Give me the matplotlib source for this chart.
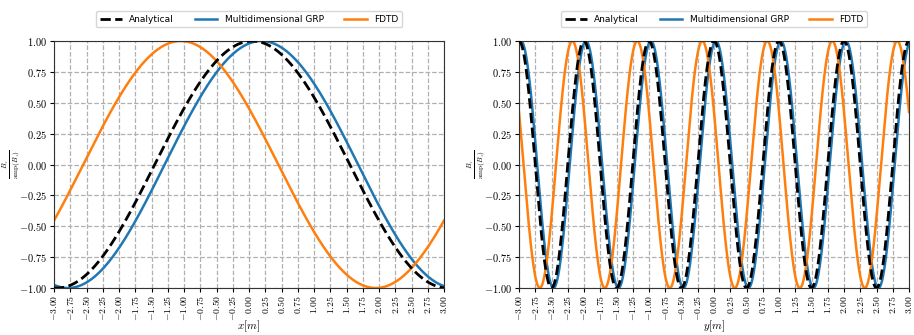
import numpy as np
import matplotlib
matplotlib.use("Agg")
import matplotlib.pyplot as plt

plt.rcParams['mathtext.fontset'] = 'cm'
plt.rcParams['font.family'] = 'serif'
plt.rcParams['font.serif'] = ['cmr10', 'DejaVu Serif']
plt.rcParams['axes.formatter.use_mathtext'] = True

# values: peak position and wavelength of each curve
labels = ['Analytical', 'Multidimensional GRP', 'FDTD']
colors = ['black', '#1f77b4', '#ff7f0e']
styles = ['--', '-', '-']

x_peak = [0.05, 0.19, -1.05]     # left panel, x[m]
x_period = [6.0, 5.95, 6.0]
y_peak = [0.0, 0.03, 0.82]       # right panel, y[m]
y_period = [1.0, 1.0, 1.0]

ticks = np.arange(-3, 3.001, 0.25)
yticks = np.arange(-1, 1.001, 0.25)

fig = plt.figure(figsize=(9.14, 3.35), dpi=100)
ax1 = fig.add_axes([54/914, 1 - 288/335, 390/914, 247/335])
ax2 = fig.add_axes([519/914, 1 - 288/335, 390/914, 247/335])

s = np.linspace(-3, 3, 2000)

for ax, peaks, periods, name in [(ax1, x_peak, x_period, 'x'),
                                 (ax2, y_peak, y_period, 'y')]:
    lines = []
    for i in [1, 2, 0]:
        vals = np.cos(2 * np.pi * (s - peaks[i]) / periods[i])
        ln, = ax.plot(s, vals, styles[i], color=colors[i],
                      lw=2.0 if i == 0 else 1.8, label=labels[i],
                      zorder=3 if i == 0 else 2)
        lines.append((i, ln))
    lines.sort()
    ax.legend([l for _, l in lines], labels, loc='lower center',
              bbox_to_anchor=(0.5, 1.055), ncol=3, frameon=True,
              prop={'family': 'DejaVu Sans', 'size': 6.5},
              handlelength=2.5, columnspacing=2.3, borderaxespad=0.)
    ax.set_xlim(-3, 3)
    ax.set_ylim(-1, 1)
    ax.set_xticks(ticks)
    ax.set_xticklabels([f'${t:.2f}$' for t in ticks], rotation=90, fontsize=7)
    ax.set_yticks(yticks)
    ax.set_yticklabels([f'${t:.2f}$' for t in yticks], fontsize=7.5)
    ax.tick_params(length=3, pad=2)
    ax.grid(True, linestyle='--', color='#b0b0b0', lw=0.9)
    ax.set_axisbelow(True)
    for sp in ax.spines.values():
        sp.set_color('#333333')
    ax.set_xlabel(f'${name}[m]$', fontsize=8)
    ax.xaxis.set_label_coords(0.5, -0.125)
    ax.set_ylabel(r'$\frac{B_z}{\mathrm{amp}(B_z)}$', fontsize=7.5)
    ax.yaxis.set_label_coords(-0.083, 0.5)

fig.savefig('out.png', dpi=100)
